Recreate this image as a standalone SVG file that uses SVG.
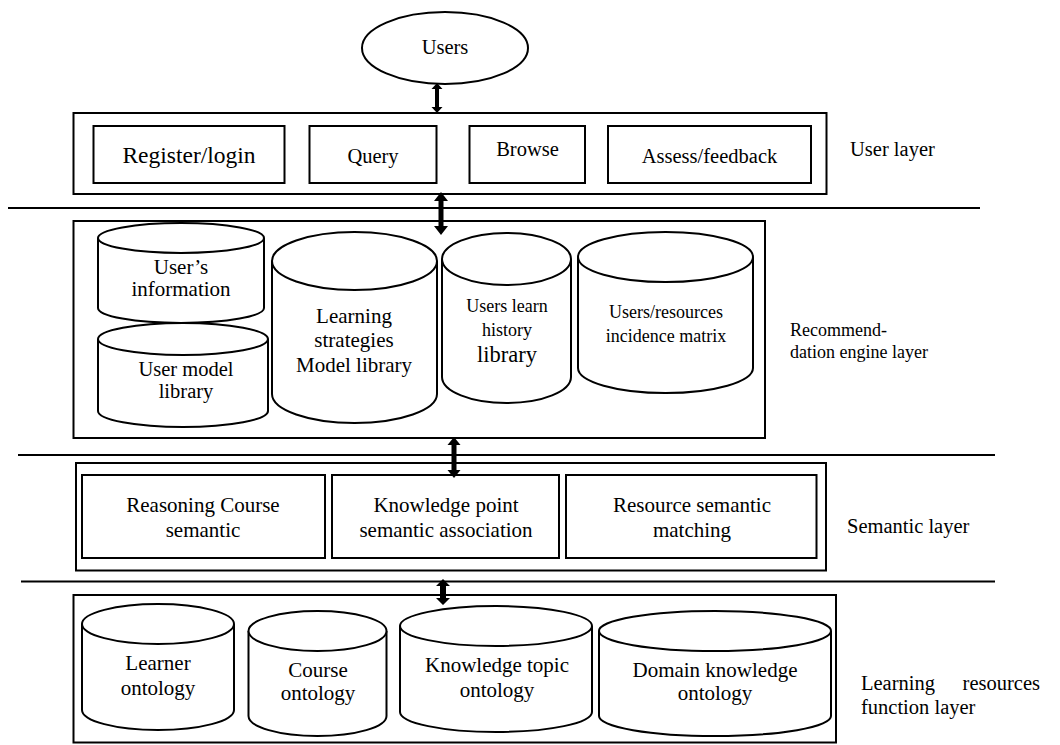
<svg xmlns="http://www.w3.org/2000/svg" width="1060" height="745" viewBox="0 0 1060 745">
<style>
text{font-family:'Liberation Serif','Times New Roman',Times,serif;fill:#000;}
.c{text-anchor:middle;}
.s{fill:#fff;stroke:#000;stroke-width:2;}
.ln{stroke:#000;stroke-width:2;fill:none;}
.ar{fill:#000;stroke:none;}
.f20{font-size:20.5px;}
.f21{font-size:21px;}
.f18{font-size:18px;}
</style>
<rect width="1060" height="745" fill="#fff"/>

<g id="layer-lines">
<line class="ln" x1="8" y1="208" x2="980" y2="208"/>
<line class="ln" x1="18" y1="455" x2="995" y2="455"/>
<line class="ln" x1="21" y1="581.5" x2="995" y2="581.5"/>
</g>

<g id="users">
<ellipse class="s" cx="445" cy="48" rx="83" ry="36"/>
<text class="c f20" x="445" y="54">Users</text>
</g>

<g id="user-layer">
<rect class="s" x="73.5" y="113" width="753" height="81"/>
<text class="f20" x="850" y="156">User layer</text>
</g>
<g id="register"><rect class="s" x="93.5" y="126" width="191" height="57"/><text class="c" style="font-size:23.5px" x="189" y="163">Register/login</text></g>
<g id="query"><rect class="s" x="309.5" y="126" width="127" height="57"/><text class="c f20" x="373" y="163">Query</text></g>
<g id="browse"><rect class="s" x="469.5" y="126" width="115.5" height="57"/><text class="c f20" x="527.5" y="156">Browse</text></g>
<g id="assess"><rect class="s" x="608" y="126" width="203" height="57"/><text class="c f20" x="709.5" y="163">Assess/feedback</text></g>

<g id="rec-layer">
<rect class="s" x="73.5" y="221" width="691.5" height="217"/>
<text class="f18" x="790" y="336">Recommend-</text>
<text class="f18" x="790" y="358">dation engine layer</text>
</g>
<g id="users-info">
<path class="s" d="M98,238 L98,308 A83,15 0 0 0 264,308 L264,238"/>
<ellipse class="s" cx="181" cy="238" rx="83" ry="15"/>
<text class="c f21" x="181" y="274">User’s</text>
<text class="c f21" x="181" y="296">information</text>
</g>
<g id="user-model">
<path class="s" d="M98,339 L98,411 A85,16 0 0 0 268,411 L268,339"/>
<ellipse class="s" cx="183" cy="339" rx="85" ry="16"/>
<text class="c" style="font-size:20.5px" x="186" y="376">User model</text>
<text class="c" style="font-size:20.5px" x="186" y="398">library</text>
</g>
<g id="learning-strategies">
<path class="s" d="M272,261 L272,394 A82.5,29 0 0 0 437,394 L437,261"/>
<ellipse class="s" cx="354.5" cy="261" rx="82.5" ry="29"/>
<text class="c f21" x="354" y="323">Learning</text>
<text class="c f21" x="354" y="347">strategies</text>
<text class="c f21" x="354" y="372">Model library</text>
</g>
<g id="learn-history">
<path class="s" d="M442,259 L442,377 A64.5,26 0 0 0 571,377 L571,259"/>
<ellipse class="s" cx="506.5" cy="259" rx="64.5" ry="26"/>
<text class="c f18" x="507" y="311.5">Users learn</text>
<text class="c f18" x="507" y="336">history</text>
<text class="c" style="font-size:22.5px" x="507" y="362">library</text>
</g>
<g id="incidence-matrix">
<path class="s" d="M578,257 L578,368 A87.5,25 0 0 0 753,368 L753,257"/>
<ellipse class="s" cx="665.5" cy="257" rx="87.5" ry="25"/>
<text class="c f18" x="666" y="318">Users/resources</text>
<text class="c f18" x="666" y="341.5">incidence matrix</text>
</g>

<g id="semantic-layer">
<rect class="s" x="76" y="463" width="750" height="107.5"/>
<text class="f20" x="847" y="533">Semantic layer</text>
</g>
<g id="reasoning"><rect class="s" x="82" y="475" width="243" height="83"/>
<text class="c f21" x="203" y="512">Reasoning Course</text><text class="c f21" x="203" y="537">semantic</text></g>
<g id="knowledge-point"><rect class="s" x="332" y="475" width="227" height="83"/>
<text class="c f21" x="446" y="512">Knowledge point</text><text class="c f21" x="446" y="537">semantic association</text></g>
<g id="resource-matching"><rect class="s" x="566" y="475" width="250.5" height="83"/>
<text class="c f21" x="692" y="512">Resource semantic</text><text class="c f21" x="692" y="537">matching</text></g>

<g id="resources-layer">
<rect class="s" x="73.5" y="595" width="762.5" height="147.5"/>
<text class="f20" x="861" y="690">Learning</text>
<text class="f20" x="1040" y="690" text-anchor="end">resources</text>
<text class="f20" x="861" y="714">function layer</text>
</g>
<g id="learner-ontology">
<path class="s" d="M82,624 L82,710 A76,20 0 0 0 234,710 L234,624"/>
<ellipse class="s" cx="158" cy="624" rx="76" ry="20"/>
<text class="c f21" x="158" y="670">Learner</text><text class="c f21" x="158" y="695">ontology</text>
</g>
<g id="course-ontology">
<path class="s" d="M248.5,631 L248.5,716 A69,20 0 0 0 386.5,716 L386.5,631"/>
<ellipse class="s" cx="317.5" cy="631" rx="69" ry="20"/>
<text class="c f21" x="318" y="677">Course</text><text class="c f21" x="318" y="700">ontology</text>
</g>
<g id="topic-ontology">
<path class="s" d="M400,626 L400,712 A96,20 0 0 0 592,712 L592,626"/>
<ellipse class="s" cx="496" cy="626" rx="96" ry="20"/>
<text class="c f21" x="497" y="672">Knowledge topic</text><text class="c f21" x="497" y="697">ontology</text>
</g>
<g id="domain-ontology">
<path class="s" d="M599,631 L599,716 A116,20 0 0 0 831,716 L831,631"/>
<ellipse class="s" cx="715" cy="631" rx="116" ry="20"/>
<text class="c f21" x="715" y="677">Domain knowledge</text><text class="c f21" x="715" y="700">ontology</text>
</g>

<g id="connectors">
<path class="ar" d="M437,83 L442.5,89 L439,89 L439,107 L442.5,107 L437,113 L431.5,107 L435,107 L435,89 L431.5,89 Z"/>
<path class="ar" d="M441,192 L448,201 L443.5,201 L443.5,226 L448,226 L441,235 L434,226 L438.5,226 L438.5,201 L434,201 Z"/>
<path class="ar" d="M454,437 L460.5,445 L456.5,445 L456.5,470 L460.5,470 L454,478 L447.5,470 L451.5,470 L451.5,445 L447.5,445 Z"/>
<path class="ar" d="M443,579 L450,586 L446,586 L446,598 L450,598 L443,605 L436,598 L440,598 L440,586 L436,586 Z"/>
</g>
</svg>
